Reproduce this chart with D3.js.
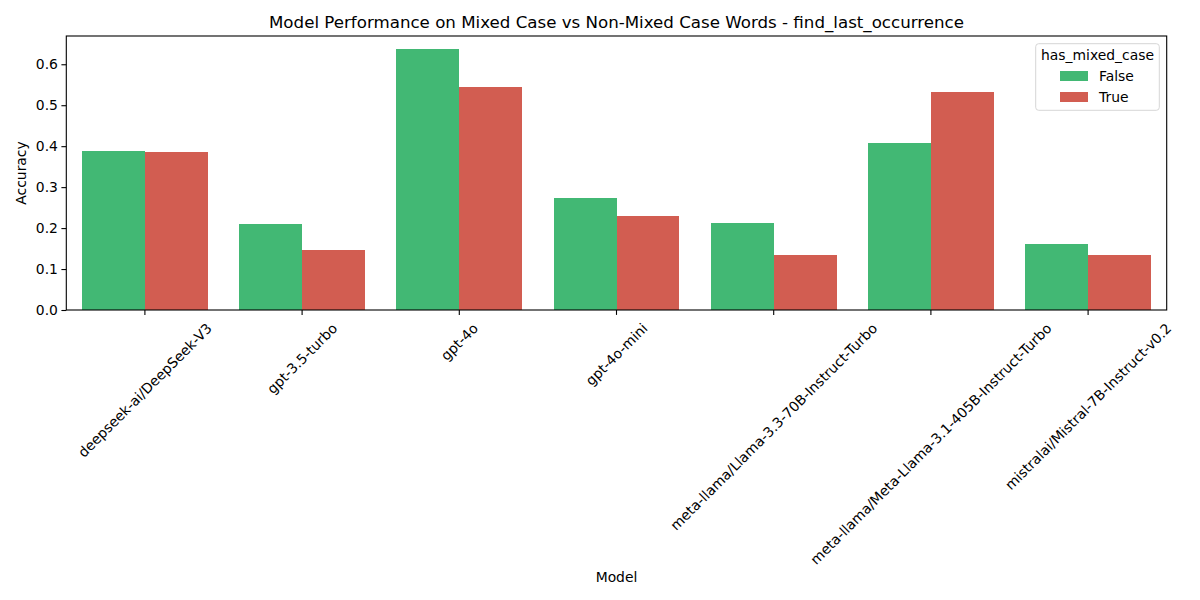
<!DOCTYPE html>
<html><head><meta charset="utf-8">
<script src="https://cdn.jsdelivr.net/npm/d3@7"></script>
<style>body{margin:0;background:#fff}text{font-family:"DejaVu Sans",sans-serif;fill:#000}</style>
</head><body><svg id="c" width="1200" height="600"></svg>
<script>
const models = ["deepseek-ai/DeepSeek-V3","gpt-3.5-turbo","gpt-4o","gpt-4o-mini","meta-llama/Llama-3.3-70B-Instruct-Turbo","meta-llama/Meta-Llama-3.1-405B-Instruct-Turbo","mistralai/Mistral-7B-Instruct-v0.2"];
const hues = ["False","True"];
const valuesFalse = [0.388,0.210,0.637,0.273,0.212,0.407,0.161];
const valuesTrue  = [0.386,0.147,0.545,0.229,0.134,0.532,0.134];
const yTicks = [0.0,0.1,0.2,0.3,0.4,0.5,0.6];
const colors = ["#42b874","#d25d51"];
const title = "Model Performance on Mixed Case vs Non-Mixed Case Words - find_last_occurrence";

const svg = d3.select("#c");
const L=66.3,R=1166.7,T=36,B=310;
const x = d3.scaleBand().domain(models).range([L,R]).paddingInner(0.2).paddingOuter(0.1);
const xh = d3.scaleBand().domain(hues).range([0,x.bandwidth()]);
const y = d3.scaleLinear().domain([0,0.669]).range([B,T]);
const series=[valuesFalse,valuesTrue];

hues.forEach((h,hi)=>{
  svg.append("g").attr("shape-rendering","crispEdges").selectAll("rect").data(models).join("rect")
    .attr("x",d=>x(d)+xh(h)).attr("width",xh.bandwidth())
    .attr("y",(d,i)=>y(series[hi][i])).attr("height",(d,i)=>B-y(series[hi][i]))
    .attr("fill",colors[hi]);
});

// y axis
const ya = svg.append("g").attr("transform",`translate(${L},0)`).call(d3.axisLeft(y).tickValues(yTicks).tickFormat(d3.format(".1f")).tickSize(4.9).tickPadding(3.5));
ya.select(".domain").remove();
ya.selectAll("line").attr("stroke","#000").attr("stroke-width",1.1);
ya.selectAll("text").style("font-size","13.9px");
// x axis
const xa = svg.append("g").attr("transform",`translate(0,${B})`).call(d3.axisBottom(x).tickSize(4.9).tickFormat(""));
xa.select(".domain").remove();
xa.selectAll("line").attr("stroke","#000").attr("stroke-width",1.1);
// rotated labels
const lg = svg.append("g");
models.forEach(m=>{
  const t = lg.append("text").text(m).style("font-size","13.9px").attr("text-anchor","middle").attr("dominant-baseline","central");
  const w = t.node().getComputedTextLength();
  const h = 16.2;
  const H = (w+h)*Math.SQRT1_2;
  const cx = x(m)+x.bandwidth()/2, cy = 320 + H/2;
  t.attr("x",cx).attr("y",cy).attr("transform",`rotate(-45,${cx},${cy})`);
});
// frame
svg.append("rect").attr("x",L).attr("y",T).attr("width",R-L).attr("height",B-T).attr("fill","none").attr("stroke","#000").attr("stroke-width",1.1);

// labels
svg.append("text").attr("x",(L+R)/2).attr("y",28).attr("text-anchor","middle").style("font-size","16.67px").text(title);
svg.append("text").attr("x",(L+R)/2).attr("y",582).attr("text-anchor","middle").style("font-size","13.9px").text("Model");
svg.append("text").attr("transform",`translate(26,${(T+B)/2}) rotate(-90)`).attr("text-anchor","middle").style("font-size","13.9px").text("Accuracy");

// legend
const lgX=1035.7, lgY=43.7, lgW=123.6, lgH=66.6;
const leg = svg.append("g");
leg.append("rect").attr("x",lgX).attr("y",lgY).attr("width",lgW).attr("height",lgH).attr("rx",3).attr("fill","#fff").attr("fill-opacity",0.8).attr("stroke","#d6d6d6").attr("stroke-width",1);
leg.append("text").attr("x",lgX+lgW/2).attr("y",55).attr("dominant-baseline","central").attr("text-anchor","middle").style("font-size","13.9px").text("has_mixed_case");
hues.forEach((h,i)=>{
  const cy = 76 + i*21;
  leg.append("rect").attr("x",1060).attr("y",cy-5).attr("width",28).attr("height",10).attr("fill",colors[i]);
  leg.append("text").attr("x",1099).attr("y",cy).attr("dominant-baseline","central").style("font-size","13.9px").text(h);
});
</script></body></html>
